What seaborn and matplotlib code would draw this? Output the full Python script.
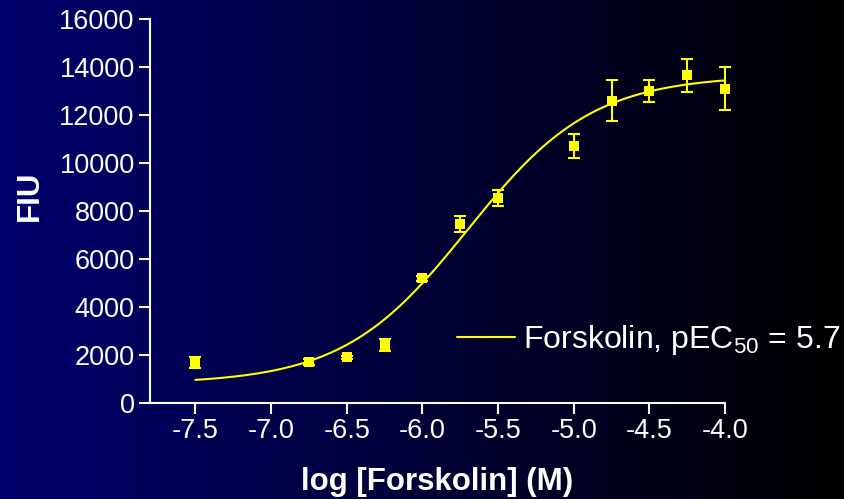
import numpy as np
import pandas as pd
import seaborn as sns
import matplotlib.pyplot as plt
from matplotlib.colors import LinearSegmentedColormap

# measured points (mean +/- SEM)
log_conc = [-7.5, -6.75, -6.5, -6.25, -6.0, -5.75, -5.5, -5.0, -4.75, -4.5, -4.25, -4.0]
fiu = [1700, 1700, 1900, 2400, 5200, 7450, 8550, 10700, 12600, 13000, 13650, 13100]
sem = [230, 120, 60, 250, 100, 330, 330, 490, 860, 470, 700, 910]

# fitted curve parameters (4PL)
bottom, top, log_ec50, hill = 800, 13650, -5.7, 1.05

points = pd.DataFrame({"log_conc": log_conc, "fiu": fiu, "sem": sem})
fit_x = np.linspace(-7.5, -4.0, 200)
fit = pd.DataFrame({"log_conc": fit_x,
                    "fiu": bottom + (top - bottom) / (1 + 10 ** ((log_ec50 - fit_x) * hill))})

sns.set_theme(style="ticks")
plt.rcParams['font.family'] = ['Liberation Sans', 'DejaVu Sans']
plt.rcParams['mathtext.fontset'] = 'custom'
plt.rcParams['mathtext.rm'] = 'Liberation Sans'
plt.rcParams['mathtext.default'] = 'regular'

fig = plt.figure(figsize=(8.44, 4.99), dpi=100)

# navy to black background
bg = fig.add_axes([0, 0, 1, 1], zorder=-1)
grad = np.linspace(0, 1, 256).reshape(1, -1)
cmap = LinearSegmentedColormap.from_list("bg", ["#00006E", "#000000"])
bg.imshow(grad, aspect='auto', cmap=cmap, extent=[0, 1, 0, 1])
bg.axis('off')

ax = fig.add_axes([0.1777, 0.1924, 0.6813, 0.7695])
ax.set_facecolor('none')

yellow = '#FFFF00'
eb = ax.errorbar(points["log_conc"], points["fiu"], yerr=points["sem"], fmt='none',
                 ecolor=yellow, elinewidth=1.5, capsize=4, capthick=1.5, zorder=3)
for part in eb.lines[1] + eb.lines[2]:
    part.set_clip_on(False)
sns.scatterplot(data=points, x="log_conc", y="fiu", marker='s', s=45,
                color=yellow, edgecolor=yellow, linewidth=0, ax=ax, zorder=4,
                clip_on=False)
sns.lineplot(data=fit, x="log_conc", y="fiu", color=yellow, linewidth=1.5,
             ax=ax, label="Forskolin, pEC$_{50}$ = 5.7", zorder=2)

ax.set_xlim(-7.8, -4.0)
ax.set_ylim(0, 16000)
ax.set_xticks([-7.5, -7.0, -6.5, -6.0, -5.5, -5.0, -4.5, -4.0])
ax.set_xticklabels(["-7.5", "-7.0", "-6.5", "-6.0", "-5.5", "-5.0", "-4.5", "-4.0"])
ax.set_yticks(range(0, 16001, 2000))

for side in ['top', 'right']:
    ax.spines[side].set_visible(False)
for side in ['left', 'bottom']:
    ax.spines[side].set_color('white')
    ax.spines[side].set_linewidth(1.5)
ax.tick_params(colors='white', labelcolor='white', length=8, width=1.5,
               labelsize=19.5, pad=3)

ax.set_xlabel("log [Forskolin] (M)", fontsize=22.5, fontweight='bold', color='white')
ax.set_ylabel("FIU", fontsize=22.5, fontweight='bold', color='white')
ax.xaxis.label.set_va('center')
ax.yaxis.label.set_va('center')
ax.xaxis.set_label_coords(0.499, -0.206)
ax.yaxis.set_label_coords(-0.209, 0.54)

ax.legend(loc='center left', bbox_to_anchor=(457 / 844, 1 - 340 / 499),
          bbox_transform=fig.transFigure, frameon=False, fontsize=23,
          labelcolor='white', handlelength=1.82, handletextpad=0.25,
          borderpad=0, borderaxespad=0)

fig.savefig("out.png", dpi=100)
